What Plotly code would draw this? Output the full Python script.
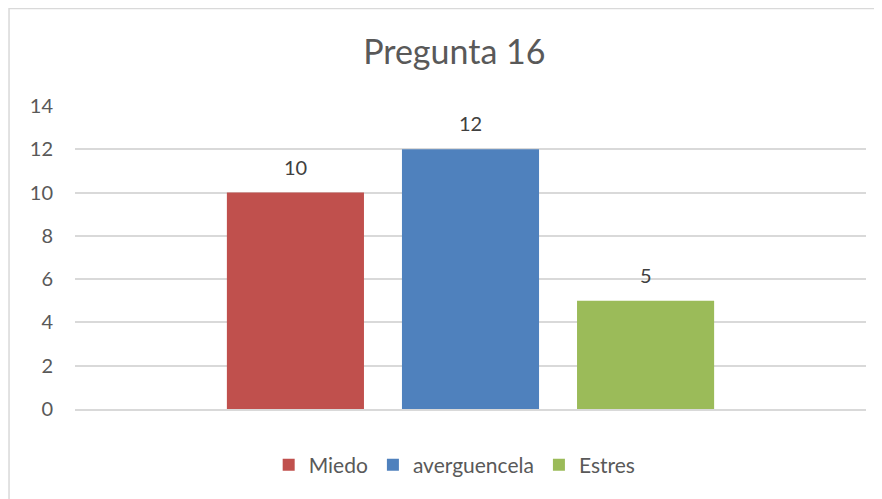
import plotly.graph_objects as go

categories = ["Pregunta 16"]
series_names = ["Miedo", "averguencela", "Estres"]
series_values = [[10], [12], [5]]
colors = ["#c0504d", "#4f81bd", "#9bbb59"]

bargap = 0.336
bargroupgap = 0.217

fig = go.Figure()
for name, vals, col in zip(series_names, series_values, colors):
    fig.add_trace(go.Bar(
        x=categories, y=vals, name=name, marker=dict(color=col, line=dict(width=0)),
    ))

# data labels above each bar (Excel puts them a bit higher than plotly's "outside")
group_w = 1 - bargap
slot = group_w / len(series_names)
annotations = []
for i, vals in enumerate(series_values):
    for j, v in enumerate(vals):
        annotations.append(dict(
            x=j - group_w / 2 + slot * (i + 0.5), y=v, xref="x", yref="y",
            text=str(v), showarrow=False, yanchor="middle", yshift=26,
            font=dict(size=20, color="#404040"),
        ))

fig.update_layout(
    width=882, height=499,
    margin=dict(l=67, r=24, t=98, b=98),
    paper_bgcolor="white", plot_bgcolor="white",
    font=dict(family="Lato, Liberation Sans, sans-serif", color="#595959", size=20),
    title=dict(text="Pregunta 16", x=0.506, xanchor="center", y=0.912, yanchor="middle",
               font=dict(size=34, color="#595959")),
    barmode="group", bargap=bargap, bargroupgap=bargroupgap,
    showlegend=True,
    legend=dict(orientation="h", x=0.48, xanchor="center", y=-0.185, yanchor="middle",
                font=dict(size=21, color="#595959"), itemwidth=30, traceorder="normal"),
    xaxis=dict(showticklabels=False, showline=True, linecolor="#d9d9d9", linewidth=2,
               showgrid=False, zeroline=False),
    yaxis=dict(range=[0, 14], dtick=2, showgrid=True, gridcolor="#d9d9d9", gridwidth=1.5,
               zeroline=False, showline=False, ticklabelstandoff=21,
               tickfont=dict(size=20, color="#595959")),
    annotations=annotations,
    shapes=[dict(type="rect", xref="paper", yref="paper", x0=-0.0834, x1=1.2, y0=-0.6, y1=1.3215,
                 line=dict(color="#d9d9d9", width=1.5), fillcolor="rgba(0,0,0,0)", layer="below")],
)

fig.write_html("out.html")
